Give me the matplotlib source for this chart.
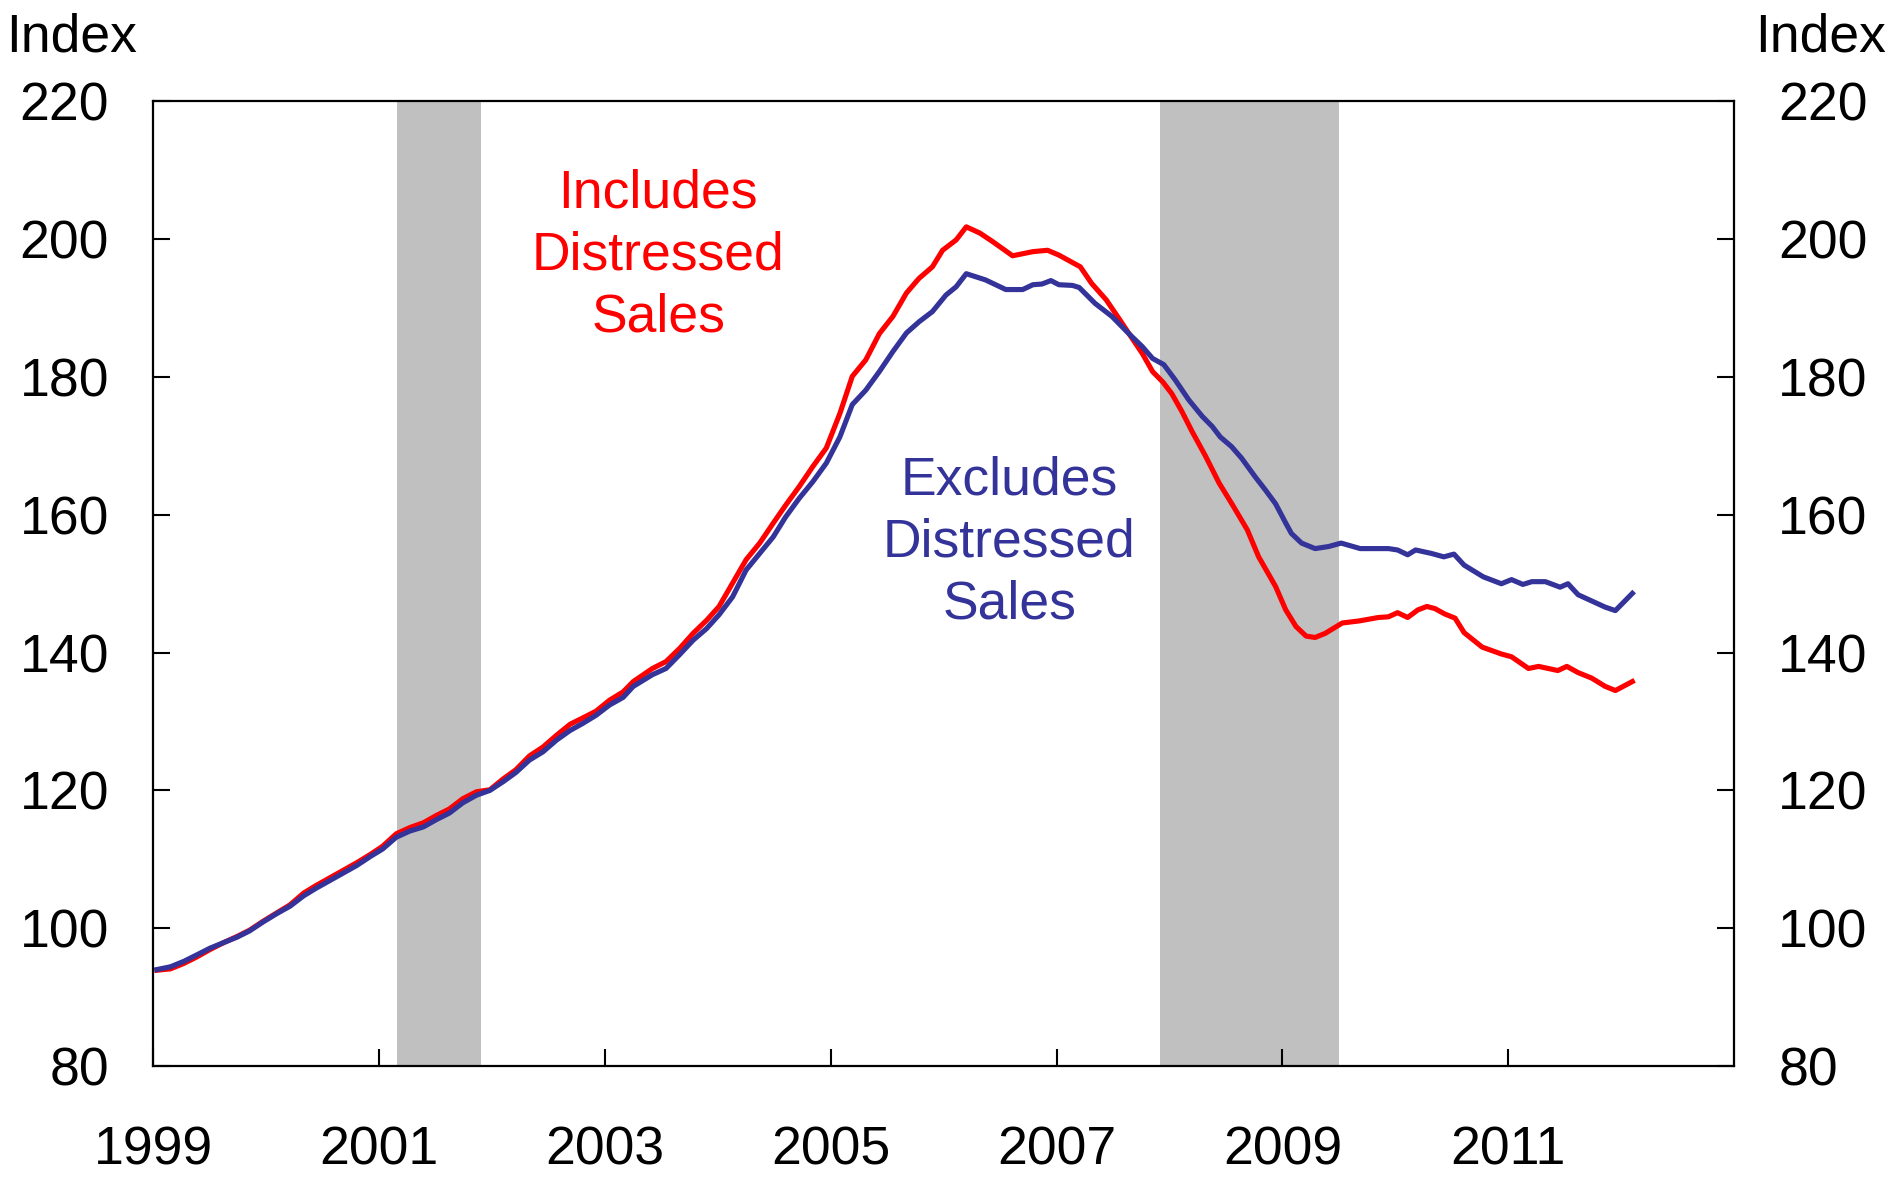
import matplotlib
matplotlib.use("Agg")
import matplotlib.pyplot as plt

plt.rcParams['font.family'] = ['Liberation Sans', 'DejaVu Sans']

# ---- data ----
k_years = [1999.03, 1999.15, 1999.27, 1999.38, 1999.50, 1999.62, 1999.74, 1999.85, 1999.97,
           2000.09, 2000.21, 2000.33, 2000.44, 2000.56, 2000.68, 2000.80, 2000.92,
           2001.03, 2001.15, 2001.27, 2001.39, 2001.51, 2001.62, 2001.74, 2001.86, 2001.98,
           2002.10, 2002.21, 2002.33, 2002.45, 2002.57, 2002.69, 2002.80, 2002.92,
           2003.04, 2003.16]

excl_early = [94.0, 94.4, 95.2, 96.1, 97.1, 97.9, 98.7, 99.6, 100.9,
              102.1, 103.2, 104.7, 105.8, 106.9, 108.0, 109.1, 110.4,
              111.5, 113.2, 114.1, 114.7, 115.8, 116.7, 118.2, 119.3, 120.0,
              121.3, 122.6, 124.4, 125.6, 127.3, 128.7, 129.7, 130.9,
              132.4, 133.5]

incl_early = [93.9, 94.1, 94.9, 95.8, 96.9, 97.9, 98.8, 99.7, 101.0,
              102.2, 103.4, 105.1, 106.2, 107.3, 108.4, 109.5, 110.7,
              111.9, 113.7, 114.6, 115.3, 116.4, 117.3, 118.8, 119.8, 120.1,
              121.7, 123.0, 125.0, 126.3, 128.0, 129.6, 130.5, 131.5,
              133.1, 134.3]

excl_late_years = [2003.25, 2003.42, 2003.54, 2003.66, 2003.78, 2003.90, 2004.01, 2004.13,
                   2004.25, 2004.37, 2004.49, 2004.60, 2004.72, 2004.84, 2004.96, 2005.08,
                   2005.19, 2005.31, 2005.43, 2005.55, 2005.67, 2005.78, 2005.90, 2006.02,
                   2006.11, 2006.20, 2006.37, 2006.55, 2006.70, 2006.79, 2006.87, 2006.95,
                   2007.02, 2007.14, 2007.20, 2007.34, 2007.49, 2007.64, 2007.76, 2007.85,
                   2007.95, 2008.05, 2008.17, 2008.29, 2008.38, 2008.45, 2008.55, 2008.64,
                   2008.76, 2008.85, 2008.94, 2009.03, 2009.08, 2009.17, 2009.29, 2009.41,
                   2009.52, 2009.69, 2009.94, 2010.02, 2010.11, 2010.18, 2010.32, 2010.43,
                   2010.52, 2010.61, 2010.78, 2010.94, 2011.03, 2011.13, 2011.21, 2011.33,
                   2011.46, 2011.53, 2011.62, 2011.74, 2011.86, 2011.95, 2012.10]
excl_late = [135.1, 136.8, 137.7, 139.7, 141.8, 143.5, 145.5, 148.1,
             152.0, 154.4, 156.8, 159.7, 162.4, 164.8, 167.5, 171.3,
             176.0, 178.1, 180.8, 183.7, 186.4, 188.0, 189.5, 191.9,
             193.1, 195.0, 194.1, 192.7, 192.7, 193.4, 193.5, 194.0,
             193.4, 193.3, 193.0, 190.7, 188.8, 186.3, 184.4, 182.7,
             181.8, 179.6, 176.7, 174.3, 172.8, 171.3, 169.9, 168.2,
             165.5, 163.6, 161.6, 158.8, 157.3, 155.9, 155.1, 155.4,
             155.9, 155.1, 155.1, 154.9, 154.2, 154.9, 154.4, 153.9,
             154.3, 152.7, 151.0, 150.0, 150.6, 149.9, 150.3, 150.3,
             149.5, 150.0, 148.4, 147.5, 146.6, 146.1, 148.6]

incl_late_years = [2003.25, 2003.42, 2003.54, 2003.66, 2003.78, 2003.90, 2004.01, 2004.13,
                   2004.25, 2004.37, 2004.49, 2004.60, 2004.72, 2004.84, 2004.96, 2005.08,
                   2005.19, 2005.31, 2005.43, 2005.55, 2005.67, 2005.78, 2005.90, 2005.99,
                   2006.11, 2006.20, 2006.32, 2006.43, 2006.61, 2006.79, 2006.92, 2007.02,
                   2007.21, 2007.31, 2007.44, 2007.56, 2007.67, 2007.76, 2007.85, 2007.94,
                   2008.02, 2008.11, 2008.20, 2008.32, 2008.44, 2008.56, 2008.69, 2008.79,
                   2008.94, 2009.03, 2009.12, 2009.21, 2009.29, 2009.38, 2009.53, 2009.68,
                   2009.85, 2009.94, 2010.02, 2010.11, 2010.20, 2010.28, 2010.35, 2010.44,
                   2010.53, 2010.61, 2010.77, 2010.94, 2011.03, 2011.18, 2011.27, 2011.44,
                   2011.52, 2011.62, 2011.74, 2011.86, 2011.95, 2012.10]
incl_late = [135.8, 137.7, 138.7, 140.6, 142.8, 144.7, 146.7, 150.1,
             153.5, 155.9, 158.8, 161.4, 164.1, 167.0, 169.7, 174.7,
             180.1, 182.5, 186.3, 188.8, 192.2, 194.3, 196.0, 198.4,
             199.9, 201.8, 200.9, 199.7, 197.6, 198.2, 198.4, 197.7,
             196.0, 193.6, 191.2, 188.3, 185.6, 183.4, 180.8, 179.3,
             177.6, 175.0, 172.1, 168.5, 164.6, 161.4, 157.8, 153.9,
             149.6, 146.2, 143.8, 142.4, 142.2, 142.8, 144.3, 144.6,
             145.1, 145.2, 145.8, 145.1, 146.2, 146.7, 146.4, 145.6,
             145.0, 142.9, 140.8, 139.8, 139.4, 137.7, 138.0, 137.4,
             138.0, 137.1, 136.3, 135.1, 134.5, 135.8]

recessions = [(2001.16, 2001.90), (2007.92, 2009.50)]
x_ticks = [1999, 2001, 2003, 2005, 2007, 2009, 2011]
y_ticks = [80, 100, 120, 140, 160, 180, 200, 220]

RED = '#FF0000'
BLUE = '#333399'
GRAY = '#C0C0C0'
FS = 38.5

fig = plt.figure(figsize=(18.95, 11.77), dpi=100)
ax = fig.add_axes([0.081, 0.0943, 0.834, 0.8195])

for a, b in recessions:
    ax.axvspan(a, b, color=GRAY, lw=0, zorder=1)

ax.plot(k_years + incl_late_years, incl_early + incl_late, color=RED, lw=3.7,
        zorder=3, solid_joinstyle='round')
ax.plot(k_years + excl_late_years, excl_early + excl_late, color=BLUE, lw=3.7,
        zorder=4, solid_joinstyle='round')

ax.set_xlim(1999, 2013)
ax.set_ylim(80, 220)
ax.set_xticks(x_ticks)
ax.set_xticklabels([str(x) for x in x_ticks])
ax.set_yticks(y_ticks)
ax.set_yticklabels([str(y) for y in y_ticks])

ax.tick_params(axis='x', direction='in', length=12, width=1.5, pad=43, labelsize=FS)
ax.tick_params(axis='y', direction='in', length=12, width=1.5, pad=32, labelsize=FS,
               right=True, labelright=True)
for s in ax.spines.values():
    s.set_linewidth(1.6)

ax.text(2003.47, 197.6, 'Includes\nDistressed\nSales', color=RED, fontsize=FS,
        ha='center', va='center', multialignment='center', linespacing=1.31, zorder=5)
ax.text(2006.58, 156.0, 'Excludes\nDistressed\nSales', color=BLUE, fontsize=FS,
        ha='center', va='center', multialignment='center', linespacing=1.31, zorder=5)

fig.text(6 / 1895, 1 - 51 / 1177, 'Index', fontsize=FS, ha='left', va='baseline')
fig.text(1886 / 1895, 1 - 51 / 1177, 'Index', fontsize=FS, ha='right', va='baseline')

fig.savefig('out.png', dpi=100)
